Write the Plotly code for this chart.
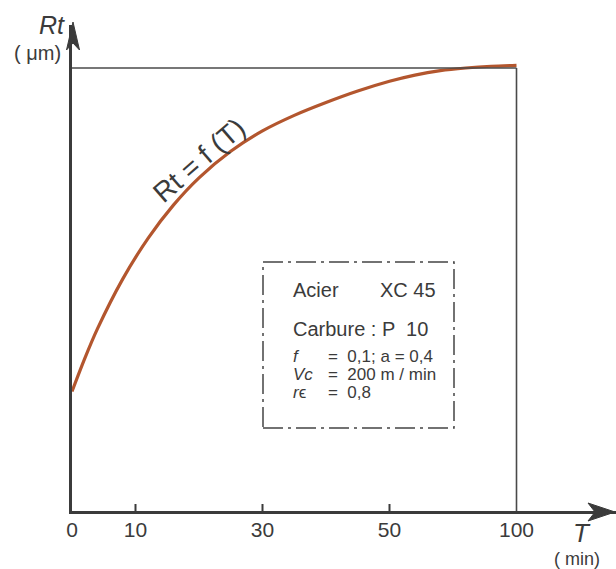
import numpy as np
import plotly.graph_objects as go

# ---- data ----
T_min = [0, 2, 4, 8, 12, 16, 20, 25, 30, 35, 40, 45, 50, 60, 70, 80, 90, 100]
Rt_um = [2.7, 3.44, 4.11, 5.24, 6.16, 6.91, 7.52, 8.12, 8.58, 8.93, 9.22, 9.48, 9.7, 9.84, 9.94, 10.0, 10.04, 10.06]
tick_T = [0, 10, 30, 50, 100]          # tick values (min)
tick_pos = [0, 10, 30, 50, 70]         # broken-axis positions of those ticks
tick_text = ["0", "10", "30", "50", "100"]
mark_T = [10, 30, 50]                  # ticks that carry a tick mark
Rt_max = 10.0
T_max = 100

box_lines = [("Acier", "XC 45"), ("Carbure : P  10", None)]
box_params = [("<i>f</i>", "=  0,1; a = 0,4"), ("<i>Vc</i>", "=  200 m / min"), ("<i>r</i>ϵ", "=  0,8")]

# ---- layout geometry ----
W, H = 616, 569
L, R, Tm, B = 72, 0, 25, 58
PW, PH = W - L - R, H - Tm - B

def px(x, y):
    return (x - L) / PW, (H - B - y) / PH

def tpos(t):
    return float(np.interp(t, tick_T, tick_pos))

xpos = [tpos(t) for t in T_min]

INK = "#3b3b3b"
FONT = "Liberation Sans, Arial, sans-serif"

fig = go.Figure()
fig.add_trace(go.Scatter(x=xpos, y=Rt_um, mode="lines",
                         line=dict(color="#b3562e", width=3.2, shape="spline", smoothing=0.8),
                         hoverinfo="skip", showlegend=False))

shapes = []
# reference lines at Rt max / T max
shapes.append(dict(type="line", xref="x", yref="y", x0=0, x1=tpos(T_max), y0=Rt_max, y1=Rt_max,
                   line=dict(color="#4a4a4a", width=1.6)))
shapes.append(dict(type="line", xref="x", yref="y", x0=tpos(T_max), x1=tpos(T_max), y0=0, y1=Rt_max,
                   line=dict(color="#4a4a4a", width=1.6)))
# tick marks crossing the axis
for t in mark_T:
    shapes.append(dict(type="line", xref="x", yref="y", ysizemode="pixel", yanchor=0,
                       x0=tpos(t), x1=tpos(t), y0=-7, y1=7, line=dict(color=INK, width=2)))
# arrowheads
def path(points):
    pts = [px(*p) for p in points]
    return "M " + " L ".join(f"{a:.5f},{b:.5f}" for a, b in pts) + " Z"
shapes.append(dict(type="path", xref="paper", yref="paper",
                   path=path([(66.5, 50), (73, 22), (79.5, 50), (73, 43)]),
                   fillcolor=INK, line=dict(color=INK, width=1)))
shapes.append(dict(type="path", xref="paper", yref="paper",
                   path=path([(588, 503), (615, 512), (588, 521), (595, 512)]),
                   fillcolor=INK, line=dict(color=INK, width=1)))
# info box
x0, y0 = px(263, 262)
x1, y1 = px(454, 428)
shapes.append(dict(type="rect", xref="paper", yref="paper", x0=x0, x1=x1, y0=y1, y1=y0,
                   line=dict(color="#444", width=1.5, dash="20px,5px,3px,5px")))

ann = []
def text(s, x, y, size, xanchor="center", angle=0):
    a, b = px(x, y)
    ann.append(dict(text=s, x=a, y=b, xref="paper", yref="paper", showarrow=False, xanchor=xanchor,
                    yanchor="middle", textangle=angle, font=dict(family=FONT, size=size, color=INK)))

text("<i>Rt</i>", 52, 25, 25)
text("( μm)", 37, 53, 20)
text("<i>T</i>", 582, 533, 26)
text("( min)", 577, 559, 18)
text("Rt = f (T)", 199, 161, 28, angle=-41)

ys = [290, 329]
for (a, b), y in zip(box_lines, ys):
    text(a, 291, y, 20, xanchor="left")
    if b:
        text(b, 378, y, 20, xanchor="left")
for (a, b), y in zip(box_params, [356, 374, 392]):
    text(a, 291, y, 17, xanchor="left")
    text(b, 326, y, 17, xanchor="left")

fig.update_layout(
    width=W, height=H, margin=dict(l=L, r=R, t=Tm, b=B),
    paper_bgcolor="white", plot_bgcolor="white",
    shapes=shapes, annotations=ann, showlegend=False,
    xaxis=dict(range=[0, PW / 6.35], showgrid=False, zeroline=False, showline=True, linecolor=INK, linewidth=3,
               tickvals=tick_pos, ticktext=tick_text, ticks="", ticklabelstandoff=-2,
               tickfont=dict(family=FONT, size=21, color=INK), fixedrange=True),
    yaxis=dict(range=[0, PH / 44.3], showgrid=False, zeroline=False, showline=True, linecolor=INK, linewidth=3,
               showticklabels=False, ticks="", fixedrange=True),
)
fig.write_html("out.html")
